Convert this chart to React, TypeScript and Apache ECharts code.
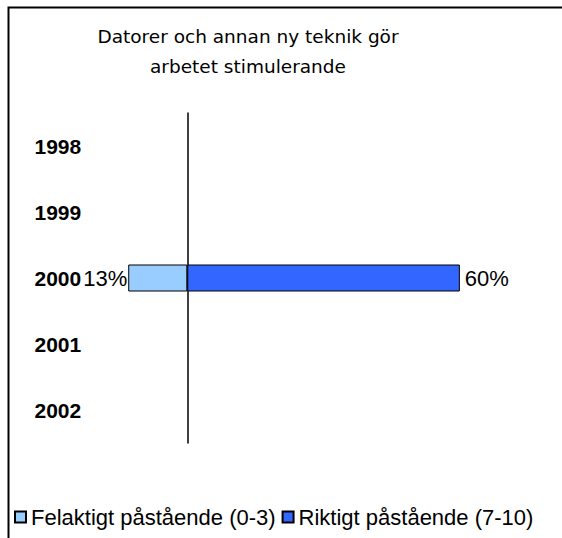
import React, { useEffect, useRef } from "react";
import * as echarts from "echarts";

const categories = ["1998", "1999", "2000", "2001", "2002"];
const felaktigt = [null, null, 13, null, null];
const riktigt = [null, null, 60, null, null];
const seriesNames = ["Felaktigt påstående (0-3)", "Riktigt påstående (7-10)"];
const titleLines = ["Datorer och annan ny teknik gör", "arbetet stimulerande"];

export default function App() {
  const ref = useRef<HTMLDivElement>(null);
  useEffect(() => {
    if (!ref.current) return;
    const chart = echarts.init(ref.current, null, { renderer: "svg" });
    chart.setOption({
      animation: false,
      backgroundColor: "#ffffff",
      title: {
        text: titleLines.join("\n"),
        left: 243,
        top: 16,
        textAlign: "center",
        textStyle: {
          fontFamily: "DejaVu Sans",
          fontSize: 18.5,
          fontWeight: "normal",
          color: "#000",
          lineHeight: 30,
        },
      },
      graphic: [
        {
          type: "rect",
          shape: { x: 8.5, y: 7.5, width: 600, height: 600 },
          style: { fill: "none", stroke: "#000", lineWidth: 2 },
          silent: true,
        },
      ],
      legend: {
        bottom: 5,
        left: 9,
        itemWidth: 11,
        itemHeight: 11,
        itemGap: 6,
        icon: "rect",
        textStyle: { fontFamily: "Liberation Sans", fontSize: 22, color: "#000", padding: [0, 0, 0, 0] },
        data: seriesNames,
      },
      grid: { left: 51, right: 34, top: 113, bottom: 95, containLabel: false, outerBoundsMode: "none" },
      xAxis: {
        type: "value",
        min: -30,
        max: 75,
        show: false,
      },
      yAxis: {
        type: "category",
        data: categories,
        inverse: true,
        axisLine: { show: true, onZero: true, lineStyle: { color: "#000", width: 1.5 } },
        axisTick: { show: false },
        axisLabel: {
          margin: 16.5,
          align: "left",
          fontFamily: "Liberation Sans",
          fontWeight: "bold",
          fontSize: 21,
          color: "#000",
        },
        splitLine: { show: false },
      },
      series: [
        {
          name: seriesNames[0],
          type: "bar",
          stack: "a",
          barWidth: 27,
          data: felaktigt.map((v) => (v == null ? null : -v)),
          itemStyle: { color: "#99CCFF", borderColor: "#000", borderWidth: 1 },
          label: {
            show: true,
            position: "left",
            distance: 1,
            formatter: (p: any) => Math.abs(p.value) + "%",
            fontFamily: "Liberation Sans",
            fontSize: 22,
            color: "#000",
          },
        },
        {
          name: seriesNames[1],
          type: "bar",
          stack: "a",
          barWidth: 27,
          data: riktigt,
          itemStyle: { color: "#3366FF", borderColor: "#000", borderWidth: 1 },
          label: {
            show: true,
            position: "right",
            distance: 5,
            formatter: (p: any) => p.value + "%",
            fontFamily: "Liberation Sans",
            fontSize: 22,
            color: "#000",
          },
        },
      ],
    });
    return () => chart.dispose();
  }, []);
  return (
    <div
      ref={ref}
      style={{ position: "fixed", left: 0, top: 0, width: 562, height: 538 }}
    />
  );
}
